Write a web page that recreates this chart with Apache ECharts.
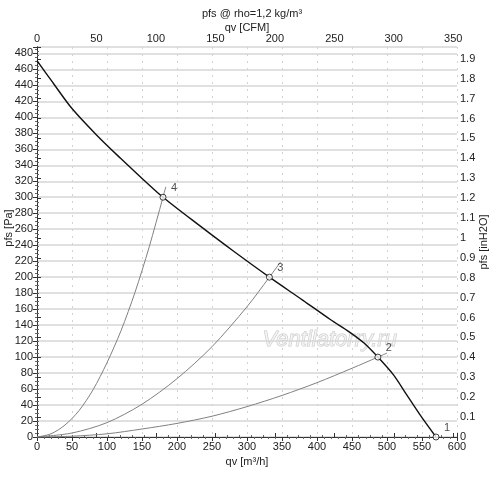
<!DOCTYPE html>
<html>
<head>
<meta charset="utf-8">
<script src="https://cdn.jsdelivr.net/npm/echarts@6/dist/echarts.min.js"></script>
<style>
  html, body { margin: 0; padding: 0; background: #fff; }
  #chart_fan { width: 500px; height: 478px; }
</style>
</head>
<body>
<div id="chart_fan"></div>
<script>
// fan curve pfs over qv
var qvFan  = [0, 23, 50, 85, 119, 152, 180, 230, 280, 332, 380, 419, 447, 468, 487, 509, 528, 547, 570];
var pfsFan = [471, 443, 411, 378, 349, 322, 300, 266, 233, 200, 171, 147, 131, 117, 100, 78, 53, 28, 0];

// system curves through the operating points
var sys4Qv  = [0, 20, 40, 60, 80, 100, 120, 140, 160, 180, 184];
var sys4Pfs = [0, 4, 15, 33, 59, 93, 133, 181, 237, 300, 313];
var sys3Qv  = [0, 50, 100, 150, 200, 250, 300, 332, 348];
var sys3Pfs = [0, 5, 18, 41, 73, 113, 163, 200, 219];
var sys2Qv  = [0, 50, 100, 150, 200, 250, 300, 350, 400, 450, 487, 500];
var sys2Pfs = [0, 1, 4, 10, 17, 26, 38, 52, 68, 86, 100, 105];

// operating points
var opQv     = [570, 487, 332, 180];
var opPfs    = [0, 100, 200, 300];
var opLabels = ['1', '2', '3', '4'];

var qvMax   = 600;     // m3/h
var pfsMax  = 488;     // Pa
var cfmMax  = qvMax / 1.699;
var inchMax = pfsMax / 249.089;

function pairs(xs, ys) {
    return xs.map(function (x, i) { return [x, ys[i]]; });
}

var fontFam = '"Liberation Sans", Arial, sans-serif';
var lblStyle = {color: '#222', fontSize: 11, fontFamily: fontFam};

var chart_fan = echarts.init(document.getElementById('chart_fan'));
chart_fan.setOption({
    animation: false,
    title: {
        text: 'pfs @ rho=1,2 kg/m³',
        left: 247, top: 3, textAlign: 'center',
        textStyle: {fontSize: 11, fontWeight: 'normal', color: '#222', fontFamily: fontFam}
    },
    grid: {left: 37, right: 43, top: 47, bottom: 41, containLabel: false, outerBoundsMode: 'none'},
    xAxis: [
        {
            type: 'value', position: 'bottom',
            min: 0, max: qvMax, interval: 50,
            name: 'qv [m³/h]', nameLocation: 'middle', nameGap: 19, nameMoveOverlap: false,
            nameTextStyle: lblStyle,
            axisLine: {lineStyle: {color: '#333'}},
            axisTick: {length: 4, lineStyle: {color: '#333'}},
            minorTick: {show: true, splitNumber: 5, length: 2, lineStyle: {color: '#666'}},
            axisLabel: Object.assign({margin: 4}, lblStyle),
            splitLine: {show: true, lineStyle: {color: '#d2d2d2', type: [2, 5]}}
        },
        {
            type: 'value', position: 'top',
            min: 0, max: cfmMax, interval: 50,
            name: 'qv [CFM]', nameLocation: 'middle', nameGap: 14, nameMoveOverlap: false,
            nameTextStyle: lblStyle,
            axisLine: {lineStyle: {color: '#333'}},
            axisTick: {length: 4, lineStyle: {color: '#333'}},
            minorTick: {show: true, splitNumber: 5, length: 2, lineStyle: {color: '#666'}},
            axisLabel: Object.assign({
                margin: 3,
                formatter: function (v) { return Math.abs(v % 50) < 1e-6 ? String(v) : ''; }
            }, lblStyle),
            splitLine: {show: false}
        }
    ],
    yAxis: [
        {
            type: 'value', position: 'left',
            min: 0, max: pfsMax, interval: 20,
            name: 'pfs [Pa]', nameLocation: 'middle', nameGap: 23, nameMoveOverlap: false,
            nameTextStyle: Object.assign({padding: [0, 0, 0, 28]}, lblStyle),
            axisLine: {show: true, lineStyle: {color: '#333'}},
            axisTick: {show: true, length: 4, lineStyle: {color: '#333'}},
            minorTick: {show: true, splitNumber: 4, length: 2, lineStyle: {color: '#666'}},
            axisLabel: Object.assign({
                margin: 4,
                formatter: function (v) { return v % 20 === 0 ? String(v) : ''; }
            }, lblStyle),
            splitLine: {show: true, lineStyle: {color: '#d6d6d6', width: 1.6}}
        },
        {
            type: 'value', position: 'right',
            min: 0, max: inchMax, interval: 0.1,
            name: 'pfs [inH2O]', nameLocation: 'middle', nameGap: 21, nameMoveOverlap: false,
            nameTextStyle: lblStyle,
            axisLine: {show: true, lineStyle: {color: '#333'}},
            axisTick: {show: true, length: 4, lineStyle: {color: '#333'}},
            minorTick: {show: true, splitNumber: 5, length: 2, lineStyle: {color: '#666'}},
            axisLabel: Object.assign({
                margin: 3,
                formatter: function (v) {
                    var r = Math.round(v * 10);
                    return Math.abs(v * 10 - r) < 1e-6 ? String(r / 10) : '';
                }
            }, lblStyle),
            splitLine: {show: false}
        }
    ],
    graphic: [
        {
            type: 'text', left: 262, top: 328, silent: true,
            style: {
                text: 'Ventilatorry.ru',
                font: 'italic 22px ' + fontFam,
                fill: 'rgba(245,245,245,0.7)',
                stroke: '#c9c9c9', lineWidth: 1
            }
        }
    ],
    series: [
        {
            name: 'sys4', type: 'line', data: pairs(sys4Qv, sys4Pfs),
            smooth: 0.3, symbol: 'none',
            lineStyle: {color: '#808080', width: 1}, z: 2
        },
        {
            name: 'sys3', type: 'line', data: pairs(sys3Qv, sys3Pfs),
            smooth: 0.3, symbol: 'none',
            lineStyle: {color: '#808080', width: 1}, z: 2
        },
        {
            name: 'sys2', type: 'line', data: pairs(sys2Qv, sys2Pfs),
            smooth: 0.3, symbol: 'none',
            lineStyle: {color: '#808080', width: 1}, z: 2
        },
        {
            name: 'fan', type: 'line', data: pairs(qvFan, pfsFan),
            smooth: 0.3, symbol: 'none',
            lineStyle: {color: '#111', width: 1.4}, z: 3
        },
        {
            name: 'points', type: 'scatter',
            data: opQv.map(function (q, i) { return {value: [q, opPfs[i]], name: opLabels[i]}; }),
            symbol: 'circle', symbolSize: 6,
            itemStyle: {color: '#fff', borderColor: '#111', borderWidth: 1},
            label: {
                show: true, position: 'inside', offset: [11, -9],
                formatter: '{b}', color: '#222', fontSize: 11, fontFamily: fontFam
            },
            z: 4
        }
    ]
});
</script>
</body>
</html>
